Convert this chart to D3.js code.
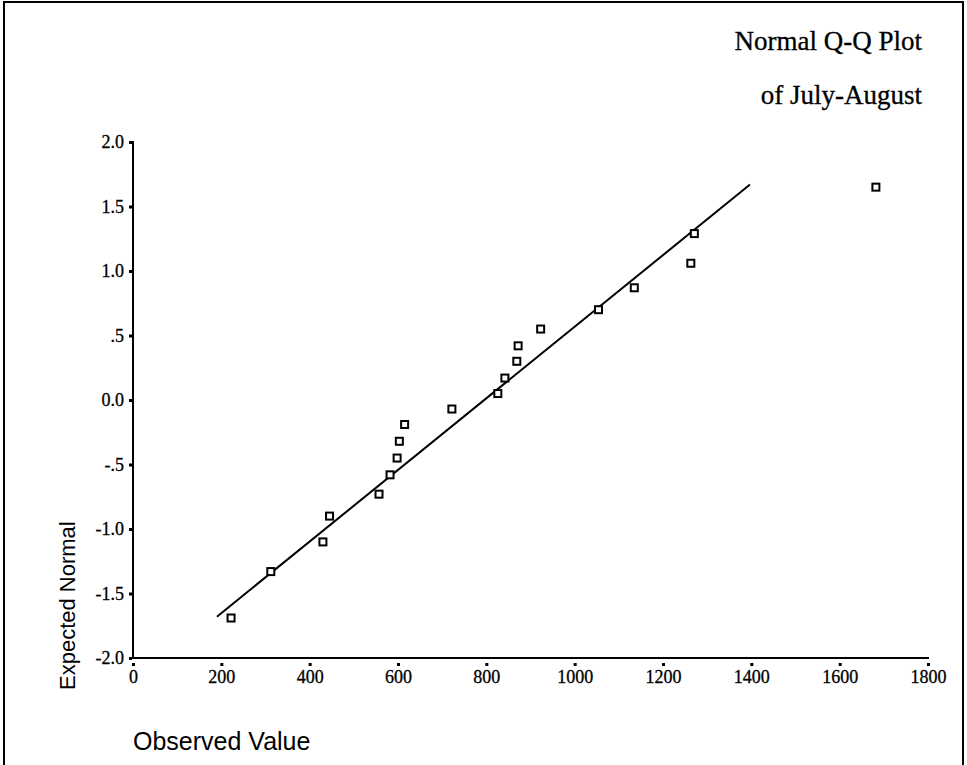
<!DOCTYPE html>
<html>
<head>
<meta charset="utf-8">
<script src="https://cdn.jsdelivr.net/npm/d3@7"></script>
<style>
  html, body { margin: 0; padding: 0; background: #fff; }
  svg { display: block; }
</style>
</head>
<body>
<svg id="chart" width="967" height="765"></svg>
<script>
// ---- data ----
const observedValues = [222, 312, 430, 445, 557, 582, 598, 603, 615, 722,
                        826, 842, 869, 872, 923, 1054, 1135, 1263, 1271, 1682];
const expectedNormal = [-1.69, -1.33, -1.10, -0.90, -0.73, -0.58, -0.45, -0.32, -0.19, -0.07,
                        0.05, 0.17, 0.30, 0.42, 0.55, 0.70, 0.87, 1.06, 1.29, 1.65];
const refLineX = [190, 1397];
const refLineZ = [-1.68, 1.67];
const xTicks = [0, 200, 400, 600, 800, 1000, 1200, 1400, 1600, 1800];
const xTickLabels = ["0", "200", "400", "600", "800", "1000", "1200", "1400", "1600", "1800"];
const yTicks = [2, 1.5, 1, 0.5, 0, -0.5, -1, -1.5, -2];
const yTickLabels = ["2.0", "1.5", "1.0", ".5", "0.0", "-.5", "-1.0", "-1.5", "-2.0"];
const titleLines = ["Normal Q-Q Plot", "of July-August"];
const xTitle = "Observed Value";
const yTitle = "Expected Normal";

// ---- drawing ----
const svg = d3.select("#chart");
const serif = "'Liberation Serif', 'Times New Roman', Times, serif";
const sans = "'Liberation Sans', Arial, Helvetica, sans-serif";

const x = d3.scaleLinear().domain([0, 1800]).range([133, 928]);
const y = d3.scaleLinear().domain([-2, 2]).range([658, 142]);

// frame
svg.append("path")
  .attr("d", "M4,766 L4,2 L963,2 L963,766")
  .attr("fill", "none").attr("stroke", "#000").attr("stroke-width", 2);

// title
svg.append("g").selectAll("text").data(titleLines).join("text")
  .attr("x", 922)
  .attr("y", (d, i) => 50 + i * 54)
  .attr("text-anchor", "end")
  .attr("font-family", serif)
  .attr("font-size", 27)
  .attr("fill", "#000")
  .attr("stroke", "#000").attr("stroke-width", 0.3)
  .text(d => d);

// x axis
const xAxis = d3.axisBottom(x)
  .tickValues(xTicks)
  .tickFormat((d, i) => xTickLabels[i])
  .tickSize(0)
  .tickPadding(12);
const gx = svg.append("g").attr("transform", `translate(0,${y(-2)})`).call(xAxis);
gx.select(".domain").attr("stroke", "#000").attr("stroke-width", 2)
  .attr("d", `M${x(0) - 1},0H${x(1800) + 1}`);
gx.selectAll(".tick text")
  .attr("font-family", serif).attr("font-size", 18).attr("fill", "#000")
  .attr("stroke", "#000").attr("stroke-width", 0.3);
gx.selectAll(".tick").append("rect")
  .attr("x", -1.5).attr("y", 5).attr("width", 3).attr("height", 3).attr("fill", "#000");

// y axis
const yAxis = d3.axisLeft(y)
  .tickValues(yTicks)
  .tickFormat((d, i) => yTickLabels[i])
  .tickSize(0)
  .tickPadding(9);
const gy = svg.append("g").attr("transform", `translate(${x(0)},0)`).call(yAxis);
gy.select(".domain").attr("stroke", "#000").attr("stroke-width", 2)
  .attr("d", `M0,${y(2) - 1}V${y(-2) + 1}`);
gy.selectAll(".tick text")
  .attr("font-family", serif).attr("font-size", 18).attr("fill", "#000")
  .attr("stroke", "#000").attr("stroke-width", 0.3);
gy.selectAll(".tick").append("rect")
  .attr("x", -4).attr("y", -1.5).attr("width", 3).attr("height", 3).attr("fill", "#000");

// axis titles
svg.append("text")
  .attr("x", x(0)).attr("y", 750)
  .attr("font-family", sans).attr("font-size", 25).attr("fill", "#000")
  .text(xTitle);
svg.append("text")
  .attr("transform", `translate(75,690) rotate(-90)`)
  .attr("font-family", sans).attr("font-size", 22).attr("fill", "#000")
  .text(yTitle);

// reference line
svg.append("path")
  .datum(d3.zip(refLineX, refLineZ))
  .attr("d", d3.line().x(d => x(d[0])).y(d => y(d[1])))
  .attr("fill", "none").attr("stroke", "#000").attr("stroke-width", 2);

// points
svg.append("g").selectAll("rect").data(d3.zip(observedValues, expectedNormal)).join("rect")
  .attr("x", d => x(d[0]) - 3.5)
  .attr("y", d => y(d[1]) - 3.5)
  .attr("width", 7).attr("height", 7)
  .attr("fill", "#fff").attr("stroke", "#000").attr("stroke-width", 2);
</script>
</body>
</html>
